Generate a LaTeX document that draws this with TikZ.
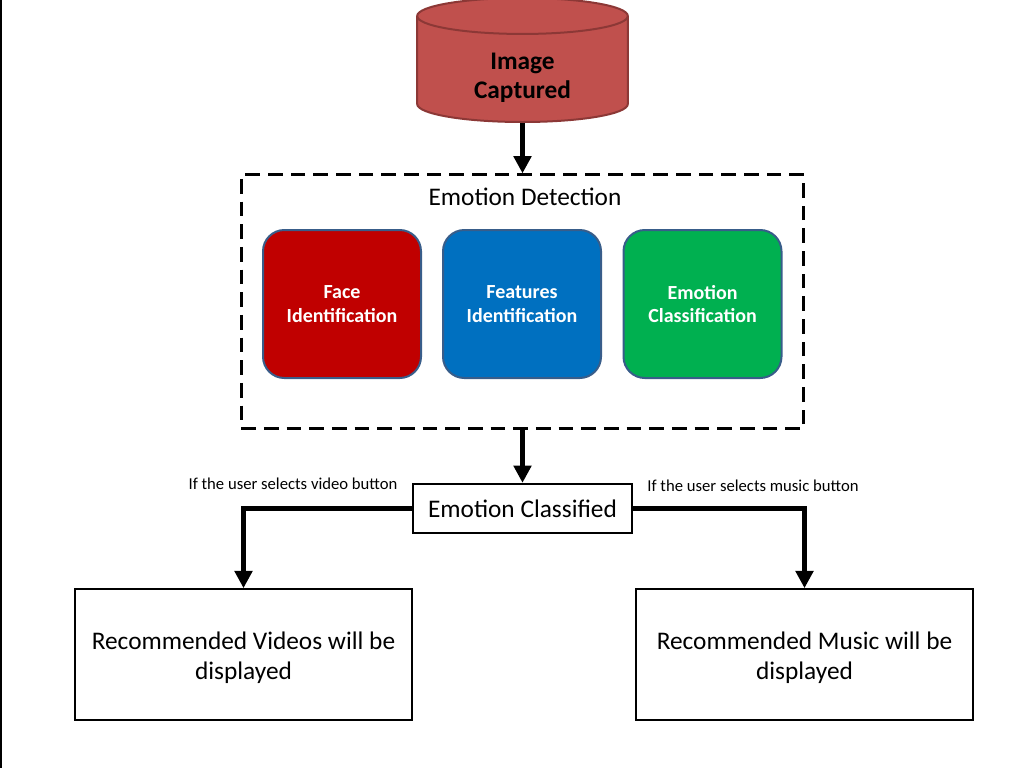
\documentclass[tikz,border=0pt]{standalone}
\usepackage{fontspec}
\setmainfont{Carlito}
\usetikzlibrary{shapes.geometric,arrows.meta}
\definecolor{capfill}{HTML}{C0504D}
\definecolor{capline}{HTML}{8C3836}
\definecolor{facefill}{HTML}{C00000}
\definecolor{featfill}{HTML}{0070C0}
\definecolor{emofill}{HTML}{00B050}
\definecolor{stageline}{HTML}{385D8A}

\begin{document}
\begin{tikzpicture}[x=0.75pt,y=-0.75pt,
  >={Triangle[length=13pt,width=13pt]},
  flow/.style={->,line width=4pt},
  stage/.style={rectangle,rounded corners=16pt,draw=stageline,line width=1.5pt,
    minimum width=118.5pt,minimum height=111pt,text=white,align=center,
    font=\bfseries\fontsize{15}{17.5}\selectfont},
  result/.style={rectangle,draw,line width=1.5pt,minimum width=253pt,
    minimum height=98pt,align=center,font=\fontsize{19}{22.5}\selectfont},
  choice/.style={font=\fontsize{12.5}{15}\selectfont}]
\useasboundingbox (0,0) rectangle (1024,768);
\draw [line width=1.2pt] (0.8,0) -- (0.8,768);

\node (IC) at (522.5,123) [anchor=south,cylinder,shape border rotate=90,aspect=0.34,
  draw=capline,fill=capfill,line width=1.5pt,minimum width=158pt,minimum height=93pt,
  align=center,font=\bfseries\fontsize{19}{22}\selectfont] {\rule{0pt}{21pt}Image\\Captured};
\node (ED) at (522.5,301.5) [rectangle,draw,line width=2.2pt,dash pattern=on 11pt off 6pt,
  minimum width=422pt,minimum height=190pt] {};
\node (EDT) at (525,197) [font=\fontsize{19}{22}\selectfont] {Emotion Detection};
\node (FI) at (342,304) [stage,fill=facefill] {Face\\Identification};
\node (FT) at (522,304) [stage,fill=featfill] {Features\\Identification};
\node (EM) at (702.5,304) [stage,fill=emofill] {Emotion\\Classification};
\node (EC) at (522.5,508.5) [rectangle,draw,line width=1.5pt,minimum width=164pt,
  minimum height=37pt,font=\fontsize{19}{22}\selectfont] {Emotion Classified};
\node (RV) at (243.5,654.5) [result] {\rule{0pt}{18pt}Recommended Videos will be\\displayed};
\node (RM) at (804.5,654.5) [result] {\rule{0pt}{18pt}Recommended Music will be\\displayed};
\node (LV) at (293,484) [choice] {If the user selects video button};
\node (LM) at (753,486) [choice] {If the user selects music button};

\draw [flow] (IC) -- (ED);
\draw [flow] (ED) -- (EC);
\draw [flow] (EC.west) -| (RV.north);
\draw [flow] (EC.east) -| (RM.north);
\end{tikzpicture}
\end{document}
